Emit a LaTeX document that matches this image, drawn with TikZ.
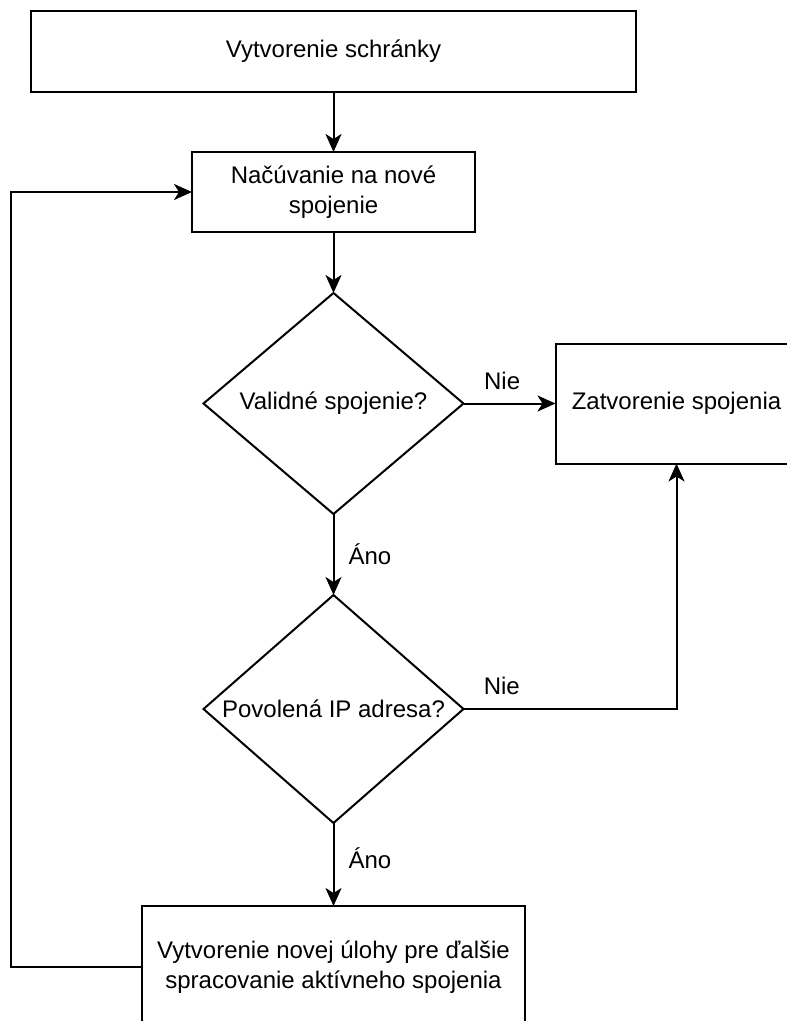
\documentclass[tikz,border=0pt]{standalone}
\usepackage{fontspec}
\setmainfont{Liberation Sans}
\usetikzlibrary{positioning,arrows.meta,shapes.geometric}
\newcommand{\flowfont}{\fontsize{24}{30}\selectfont}
\tikzset{
  stepbox/.style = {draw=black, line width=2pt, fill=white, align=center,
                    inner sep=4pt, outer sep=0pt, font=\flowfont},
  choice/.style  = {diamond, draw=black, line width=2pt, fill=white,
                    aspect=2, inner sep=0pt, outer sep=0pt, align=center,
                    minimum width=260pt, font=\flowfont},
  flow/.style    = {-{Stealth[length=18pt, width=16pt, inset=5pt]},
                    line width=2pt, draw=black},
  lbl/.style     = {font=\flowfont, inner sep=2pt},
}

\begin{document}
\begin{tikzpicture}[x=1pt, y=-1pt]
  \path[use as bounding box, clip] (0,0) rectangle (787,1021);

  \node[stepbox, minimum width=605pt, minimum height=81pt] (create) at (333.5,51.5)
    {Vytvorenie schránky};
  \node[stepbox, minimum width=283pt, minimum height=80pt, below=60pt of create] (listen)
    {Načúvanie na nové\\spojenie};
  \node[choice, minimum height=221pt, below=61pt of listen] (valid)
    {Validné spojenie?};
  \node[stepbox, minimum width=242pt, minimum height=120pt, right=92pt of valid] (close)
    {Zatvorenie spojenia};
  \node[choice, minimum height=228pt, below=81pt of valid] (allowed)
    {Povolená IP adresa?};
  \node[stepbox, minimum width=383pt, minimum height=122pt, below=83pt of allowed] (task)
    {Vytvorenie novej úlohy pre ďalšie\\spracovanie aktívneho spojenia};

  \draw[flow] (create) -- (listen);
  \draw[flow] (listen) -- (valid);
  \draw[flow] (valid) -- (close)
        node[lbl, pos=0.42, above=11pt]{Nie};
  \draw[flow] (valid) -- (allowed)
        node[lbl, midway, right=12pt]{Áno};
  \draw[flow] (allowed.east) -| (close.south)
        node[lbl, pos=0.09, above=11pt]{Nie};
  \draw[flow] (allowed) -- (task)
        node[lbl, pos=0.42, right=12pt]{Áno};
  \draw[flow] (task.west) -- ++(-131,0) |- (listen.west);
\end{tikzpicture}
\end{document}
